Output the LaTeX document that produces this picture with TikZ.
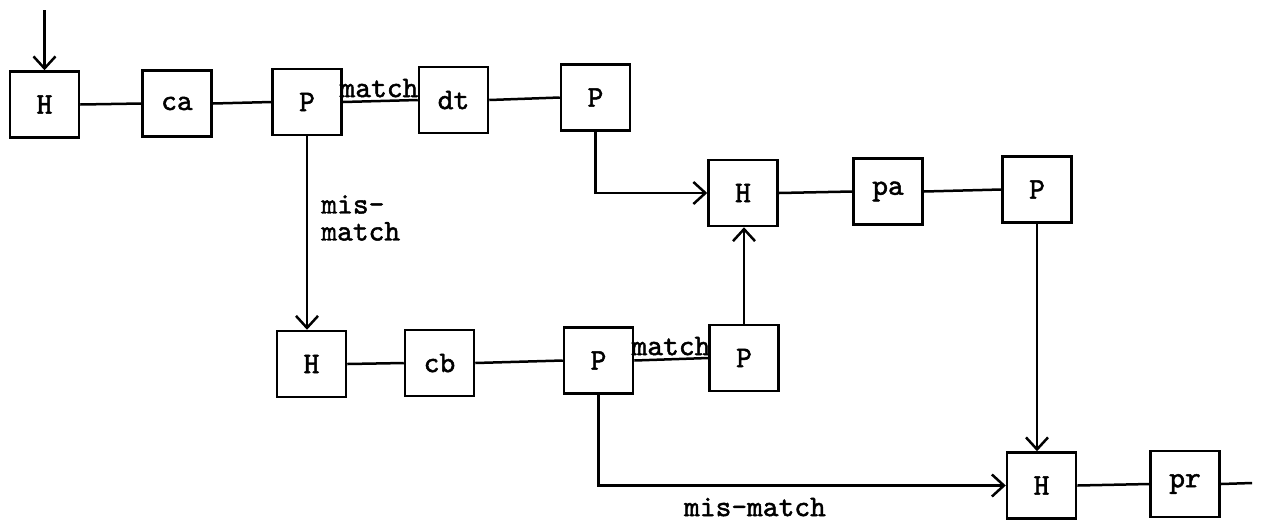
\documentclass[tikz,border=0pt]{standalone}
\usepackage{fontspec}
\newfontfamily\typewriter{lmmono10-regular.otf}[FakeBold=1.6]
\usetikzlibrary{arrows.meta,positioning}

\tikzset{
  blk/.style={draw, line width=1.25pt, minimum width=34.5pt, minimum height=33pt,
              inner sep=0pt, font=\typewriter\bfseries\fontsize{15}{16}\selectfont},
  lbl/.style={inner sep=0pt, font=\typewriter\bfseries\fontsize{15}{13.5}\selectfont},
  wire/.style={line width=1.25pt},
  arr/.style={wire, -{Straight Barb[length=6pt,width=11pt,line width=1.25pt]}}
}

\begin{document}
\begin{tikzpicture}[x=0.5pt, y=-0.5pt]
  \useasboundingbox (0,0) rectangle (1261,521);

  % upper row
  \node[blk] (H1) at (44.5,104.5) {H};
  \node[blk] (ca) at (177,103.5) {ca};
  \node[blk] (P1) at (307,102) {P};
  \node[blk] (dt) at (453.5,100) {dt};
  \node[blk] (P2) at (595.5,97.5) {P};

  % middle row
  \node[blk] (H3) at (743,193) {H};
  \node[blk] (pa) at (888,191.5) {pa};
  \node[blk] (P3) at (1037,189.5) {P};

  % lower row
  \node[blk] (H2) at (311.5,364) {H};
  \node[blk] (cb) at (439.5,363) {cb};
  \node[blk] (P4) at (598.5,360.5) {P};
  \node[blk] (P5) at (744,358) {P};

  % bottom row
  \node[blk] (H4) at (1041.5,485.5) {H};
  \node[blk] (pr) at (1185,484) {pr};

  % free ends
  \coordinate (in) at (44.5,10);
  \coordinate (out) at (1252,483);

  % connectors
  \draw[arr] (in) -- (H1.north);
  \draw[wire] (H1.east) -- (ca.west);
  \draw[wire] (ca.east) -- (P1.west);
  \draw[wire] (P1.east) -- (dt.west);
  \draw[wire] (dt.east) -- (P2.west);
  \draw[arr] (P2.south) |- (H3.west);
  \draw[wire] (H3.east) -- (pa.west);
  \draw[wire] (pa.east) -- (P3.west);
  \draw[arr] (P1.south) -- (P1.south |- H2.north);
  \draw[wire] (H2.east) -- (cb.west);
  \draw[wire] (cb.east) -- (P4.west);
  \draw[wire] (P4.east) -- (P5.west);
  \draw[arr] (P5.north) -- (P5.north |- H3.south);
  \draw[arr] (P3.south) -- (P3.south |- H4.north);
  \draw[arr] (P4.south) |- (H4.west);
  \draw[wire] (H4.east) -- (pr.west);
  \draw[wire] (pr.east) -- (out);

  % branch labels
  \node[lbl] (m1) at (379,88) {match};
  \node[lbl, anchor=west, align=left] (mm1) at (321,218) {mis-\\[0pt]match};
  \node[lbl] (m2) at (671,346) {match};
  \node[lbl] (mm2) at (755,507) {mis-match};
\end{tikzpicture}
\end{document}
